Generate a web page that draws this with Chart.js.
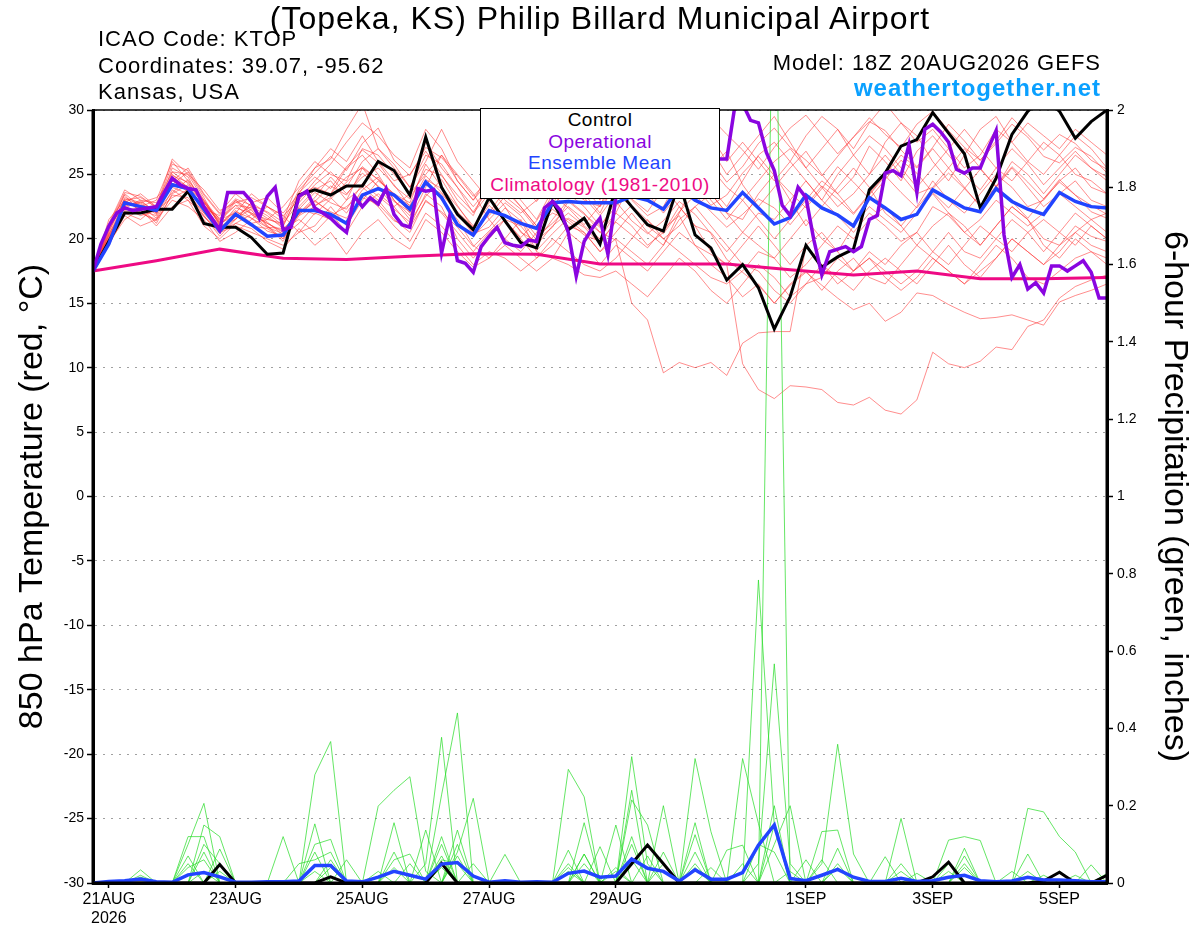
<!DOCTYPE html>
<html lang="en">
<head>
  <meta charset="UTF-8">
  <title>KTOP GEFS plume</title>
  <script src="https://cdn.jsdelivr.net/npm/chart.js"></script>
  <style>
    body { margin: 0; background: #fff; }
    #wrap { position: relative; width: 1200px; height: 927px; font-family: "Liberation Sans", Arial, sans-serif; }
    #wrap div.txt { position: absolute; white-space: nowrap; line-height: 1; color: #000; }
    #title { left: 0; width: 1200px; text-align: center; top: 2px; font-size: 32px; letter-spacing: 1px; }
    .info { left: 98px; font-size: 22px; letter-spacing: 1px; }
    #model { right: 99px; top: 52px; font-size: 22px; letter-spacing: 1px; }
    #site { right: 99px; top: 76px; font-size: 24px; font-weight: bold; letter-spacing: 1px; color: #0aa0ff !important; }
    #legendBox {
      position: absolute; left: 480px; top: 108px; width: 240px; height: 91px;
      box-sizing: border-box; border: 1px solid #000; background: #fff;
      text-align: center; font-size: 19px; line-height: 21.7px; letter-spacing: 0.5px;
    }
  </style>
</head>
<body>
<div id="wrap">
  <canvas id="plume" width="1200" height="927"></canvas>
  <div class="txt" id="title">(Topeka, KS) Philip Billard Municipal Airport</div>
  <div class="txt info" style="top:28px">ICAO Code: KTOP</div>
  <div class="txt info" style="top:55px">Coordinates: 39.07, -95.62</div>
  <div class="txt info" style="top:81px">Kansas, USA</div>
  <div class="txt" id="model">Model: 18Z 20AUG2026 GEFS</div>
  <div class="txt" id="site">weathertogether.net</div>
  <div id="legendBox">
    <div style="color:#000">Control</div>
    <div style="color:#8a05e0">Operational</div>
    <div style="color:#2244ff">Ensemble Mean</div>
    <div style="color:#ee0a84">Climatology (1981-2010)</div>
  </div>
</div>

<script>
  // x axis: forecast hour from 18Z 20AUG2026
  var tickHours = [6, 54, 102, 150, 198, 270, 318, 366];
  var tickLabels = [['21AUG', '2026'], '23AUG', '25AUG', '27AUG', '29AUG', '1SEP', '3SEP', '5SEP'];

  // 850 hPa temperature, 6-hourly (65 values, 0..384h)
  var controlTemp = [17.5,
    19.8,22.0,22.0,22.3, 22.3,23.7,21.2,20.9, 20.9,20.1,18.8,18.9, 23.4,23.8,23.4,24.1,
    24.1,26.0,25.3,23.4, 27.9,24.0,21.9,20.7, 23.2,21.4,19.7,19.3, 22.9,20.7,21.6,19.6,
    24.0,22.5,21.1,20.6, 24.4,20.3,19.3,16.8, 18.0,16.2,13.0,15.5, 19.5,17.8,18.6,19.2,
    23.8,25.1,27.2,27.7, 29.8,28.2,26.6,22.4, 24.7,28.1,29.9,31.0, 29.9,27.8,29.1,30.0];

  var meanTemp = [17.5,
    19.6,22.8,22.5,22.2, 24.2,23.9,22.3,20.6, 21.9,21.1,20.2,20.3, 22.2,22.2,21.9,21.2,
    23.4,23.9,23.4,22.3, 24.4,23.2,21.1,20.3, 22.2,21.8,21.2,20.8, 22.8,22.9,22.8,22.8,
    22.8,23.3,23.0,22.3, 24.0,23.0,22.4,22.2, 23.6,22.4,21.15,21.65, 23.4,22.4,21.85,21.0,
    23.2,22.4,21.5,21.9, 23.8,23.1,22.4,22.1, 23.9,22.9,22.3,21.9, 23.6,22.9,22.5,22.4];

  // operational run, 3-hourly (129 values, 0..384h)
  var operTemp = [
    17.5,19.6,21.0,22.0,22.4,22.2,22.3,22.4,
    22.5,23.6,24.7,24.2,23.9,23.8,22.5,21.6,
    20.7,23.6,23.6,23.6,22.9,21.6,23.3,24.0,
    20.7,20.9,23.3,23.7,22.4,22.0,21.6,21.0,
    20.5,23.3,22.5,23.2,22.7,23.9,21.9,21.1,
    20.9,23.9,23.7,23.8,18.9,21.7,18.3,18.1,
    17.4,19.4,20.2,20.9,19.7,19.5,19.4,19.9,
    19.8,22.4,22.9,22.2,20.5,17.1,19.8,20.8,
    21.6,18.8,23.2,24.5,25.0,24.6,25.2,24.8,
    25.5,25.0,25.8,25.3,26.0,25.6,26.4,26.2,
    26.2,30.2,30.5,29.2,29.0,26.7,25.3,22.6,
    21.8,24.0,23.2,19.9,17.2,19.0,19.2,19.4,
    19.0,19.4,21.5,21.8,25.1,25.3,24.9,27.3,
    23.6,28.5,28.9,28.3,27.5,25.4,25.1,25.5,
    25.5,27.0,28.4,20.3,17.0,18.0,16.1,16.6,
    15.8,17.9,17.9,17.5,17.9,18.3,17.4,15.4,
    15.4];

  // climatology, daily (17 values)
  var climTemp = [17.5, 18.3, 19.2, 18.5, 18.4, 18.65, 18.85, 18.8, 18.05, 18.05, 18.05, 17.6, 17.2, 17.5, 16.9, 16.9, 17.0];

  // ensemble members, 6-hourly
  var memberTemp01 = [17.5, 20.5,23.2,22.8,22.0, 25.5,24.8,22.5,21.0, 22.4,22.0,21.2,20.5, 22.5,23.8,24.5,23.0, 25.5,24.6,23.5,22.8, 25.8,24.0,22.5,21.0, 22.8,24.5,23.0,21.5, 23.8,25.0,23.5,22.0, 24.5,23.0,21.8,22.5, 24.8,23.5,25.5,26.8, 24.2,22.5,24.0,25.5, 26.8,25.0,23.5,24.8, 27.2,26.0,24.5,26.8, 28.0,26.5,25.0,23.8, 25.5,27.0,25.8,24.2, 25.5,26.8,25.5,24.8];
  var memberTemp02 = [17.5, 21.0,22.5,22.0,21.5, 23.8,23.0,21.8,20.2, 21.5,22.8,22.0,21.0, 23.5,25.5,26.2,28.5, 30.5,27.0,25.5,24.0, 26.5,25.8,24.0,22.5, 24.0,22.5,20.5,19.8, 21.5,23.0,22.0,20.5, 22.0,24.5,25.8,24.0, 22.5,21.0,20.5,19.0, 20.5,22.0,21.5,23.0, 24.5,23.0,21.8,20.5, 22.0,21.0,19.8,20.5, 22.5,21.8,20.5,19.5, 21.0,22.5,21.5,20.0, 19.5,21.0,20.2,19.8];
  var memberTemp03 = [17.5, 20.0,22.8,23.5,22.5, 24.5,25.5,23.5,22.0, 23.5,22.5,21.0,20.0, 21.8,22.5,23.5,25.5, 26.5,25.0,23.0,21.5, 24.0,26.5,25.0,23.5, 21.5,20.0,19.0,20.5, 22.5,24.0,23.0,22.5, 25.5,27.5,26.0,24.5, 26.5,28.5,27.0,25.0, 26.5,28.0,29.5,27.5, 25.5,27.0,28.5,26.5, 25.0,27.5,29.0,28.0, 26.0,24.5,26.5,28.5, 29.5,27.5,26.0,25.0, 26.5,28.0,27.0,25.5];
  var memberTemp04 = [17.5, 19.5,21.8,21.0,21.5, 23.0,22.5,21.5,19.8, 20.5,21.5,22.5,21.8, 20.5,21.0,22.5,21.0, 23.0,24.5,23.5,22.0, 24.5,23.0,21.5,19.5, 18.5,20.0,21.5,19.0, 18.5,20.5,19.5,18.0, 19.5,18.5,17.5,19.0, 20.5,19.5,18.0,17.0, 15.5,16.5,15.0,16.5, 17.5,16.0,17.5,18.5, 17.0,16.5,18.0,19.5, 18.5,17.5,16.5,18.0, 19.5,18.5,17.0,16.5, 17.5,18.5,19.0,18.0];
  var memberTemp05 = [17.5, 20.8,23.5,22.5,23.0, 26.0,24.5,23.0,21.5, 22.0,23.5,22.5,21.5, 24.5,26.0,25.0,24.5, 27.0,26.5,25.0,23.5, 27.5,25.5,24.0,22.0, 23.5,25.5,24.5,23.5, 25.5,26.5,24.5,23.0, 27.0,25.5,24.0,25.5, 27.0,25.0,23.5,22.0, 21.5,23.5,25.0,23.0, 21.0,22.5,24.0,25.5, 24.0,22.0,21.0,22.5, 24.5,23.0,22.0,23.5, 25.0,24.0,22.5,23.0, 24.5,25.5,24.0,23.5];
  var memberTemp06 = [17.5, 20.2,22.0,21.5,22.5, 24.0,23.5,22.0,20.5, 21.0,20.5,20.0,19.5, 20.5,22.0,21.5,23.0, 24.0,23.0,21.5,20.5, 23.0,22.0,20.5,19.0, 20.5,21.5,20.0,18.5, 19.5,21.0,20.5,19.0, 20.0,19.0,18.0,19.5, 21.5,22.5,21.0,19.5, 18.0,17.5,16.0,15.0, 16.5,17.0,18.5,17.5, 19.0,18.0,19.5,20.5, 19.0,18.0,19.5,21.0, 20.0,19.0,20.5,21.5, 20.5,19.5,21.0,20.0];
  var memberTemp07 = [17.5, 20.6,23.0,22.2,21.8, 25.0,24.0,22.8,21.5, 23.0,22.0,21.5,22.5, 24.0,25.5,27.0,26.0, 28.0,26.0,24.5,25.0, 26.8,25.0,23.0,21.8, 24.5,26.5,25.0,24.0, 26.0,27.0,26.0,24.5, 26.5,28.0,27.0,25.5, 28.0,29.5,28.0,26.0, 27.5,26.0,24.5,26.0, 28.0,29.5,28.5,27.0, 29.0,30.5,29.0,27.5, 28.5,27.0,25.5,26.5, 28.5,27.5,29.0,28.0, 27.0,28.5,27.5,26.5];
  var memberTemp08 = [17.5, 19.8,22.5,23.0,22.0, 24.8,24.0,22.0,20.8, 22.0,21.0,20.8,20.0, 22.0,23.0,22.0,20.5, 22.5,23.5,22.5,21.0, 23.5,22.5,20.0,18.5, 20.0,21.5,21.0,19.5, 21.0,22.0,21.0,20.0, 22.0,21.0,19.5,20.5, 22.5,21.0,19.0,18.0, 19.5,21.0,19.5,18.0, 19.5,20.5,19.0,17.5, 18.5,17.5,16.5,17.5, 19.0,20.5,19.0,18.5, 20.0,21.5,20.5,19.0, 20.5,22.0,21.0,20.0];
  var memberTemp09 = [17.5, 21.2,23.8,23.0,22.8, 25.2,25.0,23.8,22.2, 22.8,23.2,22.5,21.8, 23.0,24.5,25.8,27.5, 29.0,28.0,26.5,25.5, 28.5,27.0,24.5,23.0, 25.0,27.0,26.0,24.5, 26.5,25.5,24.0,22.5, 24.0,25.0,23.5,22.0, 23.5,25.0,24.0,22.5, 24.5,26.5,27.5,26.0, 24.5,23.0,25.0,26.5, 28.0,27.0,25.5,24.0, 25.5,27.0,28.5,27.0, 25.5,24.5,26.0,27.5, 26.5,25.0,24.5,23.5];
  var memberTemp10 = [17.5, 20.3,22.2,22.5,21.2, 23.5,24.2,22.8,21.2, 21.8,22.5,21.8,20.8, 21.5,20.5,21.8,22.5, 23.5,22.5,21.0,19.8, 22.0,21.0,19.5,18.0, 19.0,18.5,17.5,18.5, 20.0,19.0,18.0,17.5, 18.5,20.0,21.5,20.0, 19.0,18.0,17.0,16.5, 17.5,19.0,18.5,17.0, 18.0,19.5,21.0,20.0, 21.5,22.5,21.0,19.5, 21.0,22.0,20.5,21.5, 23.0,22.0,21.0,22.0, 23.5,22.5,21.5,22.0];
  var memberTemp11 = [17.5, 20.9,23.4,22.0,22.2, 24.2,25.2,23.2,21.0, 21.5,22.8,23.2,22.0, 23.5,24.0,23.5,24.8, 25.5,24.0,22.5,23.5, 25.0,26.5,24.5,23.0, 24.5,23.0,22.0,23.0, 24.5,23.5,22.5,21.0, 22.5,24.0,25.0,23.5, 25.0,26.0,25.5,24.0, 23.0,24.5,26.0,27.0, 25.5,24.0,22.5,23.5, 25.0,26.5,25.0,23.5, 24.0,25.5,27.0,25.5, 24.0,25.5,24.0,22.5, 23.5,24.5,23.0,22.5];
  var memberTemp12 = [17.5, 20.0,22.6,22.8,23.2, 24.5,23.8,22.3,21.8, 23.0,22.2,21.0,19.8, 22.0,23.2,24.8,23.5, 24.8,25.5,24.2,22.5, 24.2,23.5,22.0,20.5, 22.0,23.8,22.5,21.0, 22.8,24.2,23.2,21.8, 23.5,22.5,21.0,20.0, 21.0,22.5,23.5,22.0, 20.5,19.5,18.5,20.0, 21.5,20.0,19.0,21.0, 22.5,21.5,20.5,22.0, 23.5,22.0,21.0,19.5, 21.0,22.5,21.5,19.5, 18.5,20.0,19.0,18.5];
  var memberTemp13 = [17.5, 21.5,23.0,23.2,22.5, 26.2,25.0,23.0,21.2, 22.2,21.2,21.5,21.2, 22.8,24.2,25.2,24.0, 26.0,27.0,25.8,24.0, 26.0,28.5,26.0,24.5, 23.0,24.0,22.5,21.0, 22.0,21.5,20.5,19.0, 20.5,22.0,20.5,19.5, 22.0,24.5,23.0,21.5, 23.0,21.5,20.0,21.5, 23.0,24.5,23.5,22.0, 23.5,25.0,26.5,25.5, 27.0,25.5,24.0,22.5, 24.0,26.0,25.0,23.5, 25.0,26.5,25.5,24.5];
  var memberTemp14 = [17.5, 19.7,21.5,22.3,21.0, 22.5,23.0,21.0,20.0, 21.2,20.8,19.8,19.2, 20.8,19.5,20.5,18.8, 20.5,21.5,20.0,19.2, 21.5,20.5,19.0,17.8, 18.5,19.5,18.5,17.5, 18.5,18.0,17.2,17.0, 17.5,16.5,15.5,17.0, 18.5,17.5,16.0,15.0, 16.5,18.0,17.0,15.5, 16.5,18.0,17.0,16.0, 17.5,18.5,17.5,16.5, 18.0,19.5,18.0,17.0, 18.5,20.0,19.0,18.0, 19.5,20.5,19.5,19.0];
  var memberTemp15 = [17.5, 20.4,22.4,21.8,22.2, 23.2,23.8,22.6,21.6, 22.6,21.6,20.6,20.2, 21.2,22.6,23.2,22.0, 23.8,24.8,23.0,21.8, 24.5,23.2,21.2,20.2, 21.5,22.8,21.8,20.2, 21.2,22.5,21.5,20.5, 19.9,15.0,13.7,9.6, 10.4,10.0,10.4,9.4, 11.9,12.7,12.8,12.8, 19.4,18.0,16.5,17.5, 18.5,17.0,16.0,17.0, 18.5,17.5,16.5,17.5, 18.5,20.0,19.0,18.0, 19.0,20.5,21.5,20.5];
  var memberTemp16 = [17.5, 20.1,22.9,22.6,21.6, 24.6,23.6,21.8,20.4, 21.6,22.3,21.3,20.3, 22.3,23.6,22.8,22.3, 24.3,23.3,22.3,21.3, 23.3,24.6,22.6,20.8, 21.8,23.3,22.3,20.8, 22.3,21.3,20.3,19.8, 21.3,20.3,19.3,20.8, 21.8,19.5,18.8,18.0, 10.3,8.3,7.6,8.6, 8.5,8.3,7.3,7.1, 7.7,6.7,6.4,7.5, 11.2,10.3,10.0,10.5, 11.6,11.4,13.2,13.7, 15.4,16.3,16.8,17.2];
  var memberTemp17 = [17.5, 20.7,23.1,22.7,21.9, 25.2,24.3,22.9,21.3, 22.9,21.9,20.9,20.8, 21.9,22.9,24.1,23.4, 25.1,24.1,22.9,22.1, 24.6,23.9,21.9,20.4, 20.9,22.4,21.4,19.9, 20.9,22.9,21.9,20.9, 22.9,21.4,20.4,21.4, 22.9,21.9,20.4,18.4, 17.4,16.4,15.0,16.4, 17.4,16.4,15.4,14.5, 15.0,13.6,14.3,15.8, 15.6,14.9,14.3,13.8, 13.9,14.1,13.7,13.3, 15.1,15.6,16.0,16.5];
  var memberTemp18 = [17.5, 20.3,22.9,22.4,22.6, 24.9,24.4,22.6,21.4, 22.6,22.4,21.6,21.0, 23.6,24.8,23.9,25.6, 26.9,25.9,24.1,23.1, 25.4,24.9,23.4,22.1, 23.9,25.1,24.1,22.9, 24.6,25.9,24.9,23.6, 25.6,26.6,25.4,23.9, 25.9,27.1,26.1,24.4, 25.6,27.4,28.6,27.1, 26.1,24.9,26.4,27.9, 29.1,28.4,26.9,25.6, 27.1,28.9,27.6,26.1, 27.6,29.4,28.1,26.9, 28.1,27.4,26.1,25.4];
  var memberTemp19 = [17.5, 20.0,22.4,22.9,22.1, 23.6,24.6,22.9,21.1, 22.1,21.6,20.9,20.4, 22.4,21.9,23.1,24.4, 25.6,24.6,23.4,22.6, 24.9,23.6,22.1,20.9, 22.6,21.4,20.1,21.4, 23.4,22.4,21.1,22.6, 24.4,23.1,22.1,23.9, 25.4,24.1,22.6,23.4, 25.1,26.4,24.9,23.6, 22.4,23.9,25.6,24.4, 23.1,24.6,26.1,25.1, 23.6,22.4,23.9,25.4, 24.1,22.9,21.6,23.1, 24.6,23.4,22.1,21.6];
  var memberTemp20 = [17.5, 21.1,23.6,23.3,22.4, 25.8,25.3,23.4,21.9, 23.1,22.6,22.1,21.3, 23.8,25.1,26.4,25.3, 27.4,28.6,26.1,24.9, 27.1,26.3,24.9,23.3, 24.6,26.1,25.4,23.9, 25.9,27.4,25.9,24.4, 26.1,27.9,29.1,27.4, 26.4,27.9,29.4,28.1, 26.9,25.4,27.1,28.6, 29.6,28.1,26.6,27.9, 29.4,28.1,27.1,28.9, 29.9,28.4,27.1,26.1, 27.4,28.9,27.9,26.4, 25.9,27.1,26.4,25.1];
  var memberTemp21 = [17.5, 19.9,22.1,22.0,21.4, 23.4,23.2,21.7,20.6, 21.2,21.9,21.2,20.6, 21.9,22.9,22.1,21.6, 23.2,22.7,21.4,20.9, 22.9,22.1,20.9,19.4, 20.6,21.9,20.6,19.1, 20.4,21.6,20.9,19.6, 21.4,22.6,21.4,20.4, 22.1,23.4,22.1,20.9, 21.9,23.1,22.4,21.1, 22.6,24.1,23.1,21.9, 23.4,24.9,23.6,22.4, 23.9,25.1,23.9,22.6, 24.1,25.6,24.4,23.1, 24.4,23.4,22.6,21.9];

  // 6-hour precipitation (inches), 6-hourly
  var controlPrecip = [0, 0,0,0,0, 0,0,0,0.048, 0,0,0,0, 0,0,0.016,0, 0,0,0,0, 0,0.051,0,0, 0,0,0,0, 0,0,0,0, 0,0.05,0.098,0.05, 0,0,0,0, 0,0,0,0, 0,0,0,0, 0,0,0,0, 0.016,0.054,0,0, 0,0,0,0.005, 0.028,0,0,0.02];
  var meanPrecip = [0, 0.004,0.006,0.01,0.003, 0.002,0.021,0.027,0.016, 0.002,0.002,0.003,0.003, 0.005,0.045,0.045,0.005, 0.003,0.015,0.03,0.02, 0.01,0.049,0.053,0.018, 0.002,0.006,0.002,0.003, 0.002,0.025,0.031,0.015, 0.018,0.062,0.038,0.03, 0.005,0.034,0.01,0.01, 0.027,0.098,0.15,0.012, 0.006,0.02,0.035,0.015, 0.004,0.004,0.012,0.004, 0.006,0.015,0.02,0.006, 0.003,0.005,0.015,0.008, 0.008,0.006,0.003,0.003];

  var memberPrecip01 = [0, 0,0,0,0, 0,0,0.08,0, 0,0,0,0, 0,0,0.06,0, 0,0,0,0, 0,0.07,0,0, 0,0,0,0, 0,0.05,0,0, 0,0.1,0,0, 0,0,0,0, 0,0,2.6,0, 0,0,0.09,0, 0,0,0,0, 0,0,0.07,0, 0,0,0,0, 0,0,0,0];
  var memberPrecip02 = [0, 0,0,0,0, 0,0,0,0, 0,0,0,0, 0,0.28,0.366,0, 0,0,0,0, 0,0,0.1,0, 0,0,0,0, 0,0,0.075,0, 0,0,0,0, 0,0,0,0, 0,0.784,0.15,0, 0,0,0,0, 0,0,0,0, 0,0,0,0, 0,0,0.075,0, 0,0,0,0];
  var memberPrecip03 = [0, 0,0,0,0, 0,0.1,0.206,0, 0,0,0,0, 0,0,0,0, 0,0,0,0, 0,0.12,0,0, 0,0,0,0, 0,0,0,0, 0,0.24,0,0, 0,0.05,0,0, 0,0.05,0.567,0.05, 0,0,0,0, 0,0,0,0, 0,0,0,0, 0,0,0,0, 0,0,0,0];
  var memberPrecip04 = [0, 0,0,0,0, 0,0.12,0.12,0, 0,0,0,0, 0,0,0,0, 0,0,0,0, 0,0.228,0.44,0, 0,0,0,0, 0,0,0.156,0, 0,0,0,0, 0,0,0,0, 0,0,0,0, 0,0.05,0.359,0.075, 0,0,0,0, 0,0,0,0, 0,0,0,0, 0,0,0,0];
  var memberPrecip05 = [0, 0,0,0.034,0, 0,0,0,0, 0,0,0,0, 0,0,0,0, 0,0,0.156,0, 0.05,0.377,0,0, 0,0,0,0, 0,0.294,0.223,0, 0,0.327,0.05,0, 0,0,0,0, 0,0,0,0, 0,0,0,0, 0,0,0.167,0, 0,0,0,0, 0,0,0,0, 0,0,0,0];
  var memberPrecip06 = [0, 0,0,0,0, 0,0,0,0, 0,0,0,0.12, 0,0,0,0, 0,0.199,0.24,0.275, 0.03,0,0,0, 0,0,0,0, 0,0,0,0, 0,0,0,0, 0,0,0,0, 0.322,0.154,0,0, 0,0,0,0, 0,0,0,0, 0,0.111,0.12,0.11, 0,0,0,0, 0,0,0,0];
  var memberPrecip07 = [0, 0,0,0,0, 0,0,0,0, 0,0,0,0, 0,0.153,0,0, 0,0,0,0, 0,0,0,0, 0,0,0,0, 0,0,0,0, 0.15,0,0,0.2, 0,0.322,0.133,0, 0,0,0,0, 0,0,0,0, 0,0,0,0, 0,0,0,0, 0,0,0.193,0.184, 0.12,0.08,0,0];
  var memberPrecip08 = [0, 0,0,0,0, 0,0,0,0.088, 0,0,0,0, 0,0,0,0, 0,0,0,0, 0.137,0,0.137,0, 0,0,0,0, 0,0,0,0, 0,0.215,0.15,0, 0,0,0,0, 0,0,0,0, 0,0.133,0.137,0, 0,0,0,0, 0,0,0,0, 0,0,0,0, 0,0,0.047,0];
  var memberPrecip09 = [0, 0,0,0,0, 0,0,0.15,0.12, 0,0,0,0, 0,0,0,0, 0,0,0,0, 0,0,0.08,0.219, 0,0,0,0, 0,0,0,0, 0,0,0,0, 0,0.156,0,0, 0,0,0.1,0.2, 0,0,0,0, 0,0.068,0,0, 0,0,0.09,0, 0,0,0,0, 0,0,0,0.025];
  var memberPrecip10 = [0, 0,0,0,0, 0,0,0,0, 0,0,0,0, 0,0.1,0.113,0, 0,0,0,0, 0,0,0,0, 0,0.074,0,0, 0,0,0,0, 0,0,0,0.08, 0,0.125,0,0.085, 0.098,0,0,0, 0,0,0,0, 0,0,0,0, 0,0.05,0,0, 0,0.03,0,0, 0,0,0,0];
  var memberPrecip11 = [0, 0,0,0.02,0, 0,0.05,0,0, 0,0,0,0, 0,0,0,0.06, 0,0,0.06,0.075, 0,0,0,0, 0,0,0,0, 0,0.085,0,0.094, 0,0,0,0, 0,0,0,0, 0,0,0.15,0, 0.06,0,0,0, 0,0,0,0.025, 0,0,0,0, 0,0,0,0, 0,0,0,0];
  var memberPrecip12 = [0, 0,0,0,0, 0,0,0.1,0.05, 0,0,0,0, 0.05,0.06,0.08,0, 0,0,0.08,0, 0,0.1,0,0.05, 0,0,0,0, 0,0,0.075,0, 0.04,0,0,0, 0,0,0,0, 0,0,0,0, 0,0,0,0, 0,0,0.05,0, 0,0,0,0, 0,0,0,0, 0.03,0,0,0];
  var memberPrecip13 = [0, 0,0,0,0, 0,0.04,0.06,0, 0,0,0,0, 0,0.03,0,0, 0,0,0.04,0, 0,0.06,0.05,0, 0,0,0,0, 0,0.03,0,0, 0,0.06,0,0, 0,0.04,0,0, 0,0.1,0.08,0, 0,0,0.05,0, 0,0,0,0, 0,0,0.04,0, 0,0,0.03,0, 0,0,0,0];
  var memberPrecip14 = [0, 0,0,0.015,0, 0,0,0.03,0, 0,0,0,0, 0,0,0.04,0, 0,0.03,0,0, 0,0.04,0,0, 0,0,0,0, 0,0,0.05,0, 0.03,0,0.07,0, 0,0,0.04,0, 0.05,0,0,0.03, 0,0.06,0,0, 0,0,0.03,0, 0,0.03,0,0, 0,0,0,0.02, 0,0,0,0];
  var memberPrecip15 = [0, 0,0,0,0, 0,0.07,0,0.03, 0,0,0,0, 0,0.08,0,0, 0,0,0,0.05, 0,0,0.07,0, 0,0,0,0, 0,0.04,0,0, 0,0.12,0,0.05, 0,0.08,0,0, 0,0,0.2,0, 0,0,0.04,0, 0,0,0,0, 0,0,0.05,0, 0,0,0,0, 0,0.02,0,0];

  var memberTemps = [memberTemp01, memberTemp02, memberTemp03, memberTemp04, memberTemp05, memberTemp06,
    memberTemp07, memberTemp08, memberTemp09, memberTemp10, memberTemp11, memberTemp12,
    memberTemp13, memberTemp14, memberTemp15, memberTemp16, memberTemp17, memberTemp18,
    memberTemp19, memberTemp20, memberTemp21];
  var memberPrecips = [memberPrecip01, memberPrecip02, memberPrecip03, memberPrecip04, memberPrecip05,
    memberPrecip06, memberPrecip07, memberPrecip08, memberPrecip09, memberPrecip10, memberPrecip11,
    memberPrecip12, memberPrecip13, memberPrecip14, memberPrecip15];

  // turn a value list into {x: hour, y} points
  function toPoints(values, stepHours) {
    return values.map(function(v, i) { return { x: i * stepHours, y: v }; });
  }

  function line(data, color, width, axis, order) {
    return {
      data: data, yAxisID: axis, order: order,
      borderColor: color, borderWidth: width,
      pointRadius: 0, tension: 0, fill: false
    };
  }

  var datasets = [];
  datasets.push(line(toPoints(operTemp, 3), '#8a05e0', 3.5, 'y', 1));
  datasets.push(line(toPoints(meanTemp, 6), '#2244ff', 3.5, 'y', 2));
  datasets.push(line(toPoints(controlTemp, 6), '#000000', 3, 'y', 3));
  datasets.push(line(toPoints(climTemp, 24), '#ee0a84', 3, 'y', 4));
  datasets.push(line(toPoints(meanPrecip, 6), '#2244ff', 3.5, 'y1', 5));
  datasets.push(line(toPoints(controlPrecip, 6), '#000000', 3, 'y1', 6));
  memberPrecips.forEach(function(m) {
    datasets.push(line(toPoints(m, 6), 'rgba(40,220,40,0.9)', 0.8, 'y1', 10));
  });
  memberTemps.forEach(function(m) {
    datasets.push(line(toPoints(m, 6), 'rgba(255,50,50,0.7)', 0.8, 'y', 12));
  });

  // box round the plot area
  var frame = {
    id: 'frame',
    afterDatasetsDraw: function(chart) {
      var a = chart.chartArea, ctx = chart.ctx;
      ctx.save();
      ctx.strokeStyle = '#000';
      ctx.lineWidth = 1.5;
      ctx.beginPath(); ctx.moveTo(a.left, a.top); ctx.lineTo(a.right, a.top); ctx.stroke();
      ctx.lineWidth = 3;
      ctx.beginPath();
      ctx.moveTo(a.left, a.top); ctx.lineTo(a.left, a.bottom); ctx.lineTo(a.right, a.bottom); ctx.lineTo(a.right, a.top);
      ctx.stroke();
      ctx.restore();
    }
  };

  Chart.defaults.font.family = '"Liberation Sans", Arial, sans-serif';
  Chart.defaults.color = '#000';

  new Chart(document.getElementById('plume').getContext('2d'), {
    type: 'line',
    data: { datasets: datasets },
    plugins: [frame],
    options: {
      responsive: false,
      animation: false,
      events: [],
      layout: { padding: { top: 110, left: 0, right: 0, bottom: 0 } },
      plugins: { legend: { display: false }, tooltip: { enabled: false } },
      scales: {
        x: {
          type: 'linear', min: 0, max: 384,
          afterBuildTicks: function(scale) {
            scale.ticks = tickHours.map(function(h) { return { value: h }; });
          },
          afterFit: function(scale) { scale.height = 44; },
          ticks: {
            autoSkip: false, maxRotation: 0, padding: 2,
            font: { size: 16 },
            callback: function(value) {
              var k = tickHours.indexOf(value);
              return k < 0 ? '' : tickLabels[k];
            }
          },
          grid: { drawOnChartArea: false, tickLength: 5, tickColor: '#000', tickWidth: 1.5 },
          border: { color: '#000', width: 3 }
        },
        y: {
          position: 'left', min: -30, max: 30,
          afterFit: function(scale) { scale.width = 93; },
          ticks: {
            stepSize: 5, padding: 3, font: { size: 14 },
            callback: function(v) { return String(v); }
          },
          grid: { color: '#a0a0a0', lineWidth: 1, tickColor: '#000', tickWidth: 1.5, tickLength: 6, tickBorderDash: [] },
          border: { color: '#000', width: 3, dash: [2, 6] },
          title: {
            display: true, text: '850 hPa Temperature (red, \u00B0C)',
            font: { size: 34 }, padding: { top: 12, bottom: 0 }
          }
        },
        y1: {
          position: 'right', min: 0, max: 2,
          afterFit: function(scale) { scale.width = 93; },
          ticks: {
            stepSize: 0.2, padding: 4, font: { size: 14 },
            callback: function(v) { return String(Math.round(v * 10) / 10); }
          },
          grid: { drawOnChartArea: false, tickColor: '#000', tickWidth: 1.5, tickLength: 6 },
          border: { color: '#000', width: 3 },
          title: {
            display: true, text: '6-hour Precipitation (green, inches)',
            font: { size: 34 }, padding: { top: 5, bottom: 0 }
          }
        }
      }
    }
  });
</script>
</body>
</html>
